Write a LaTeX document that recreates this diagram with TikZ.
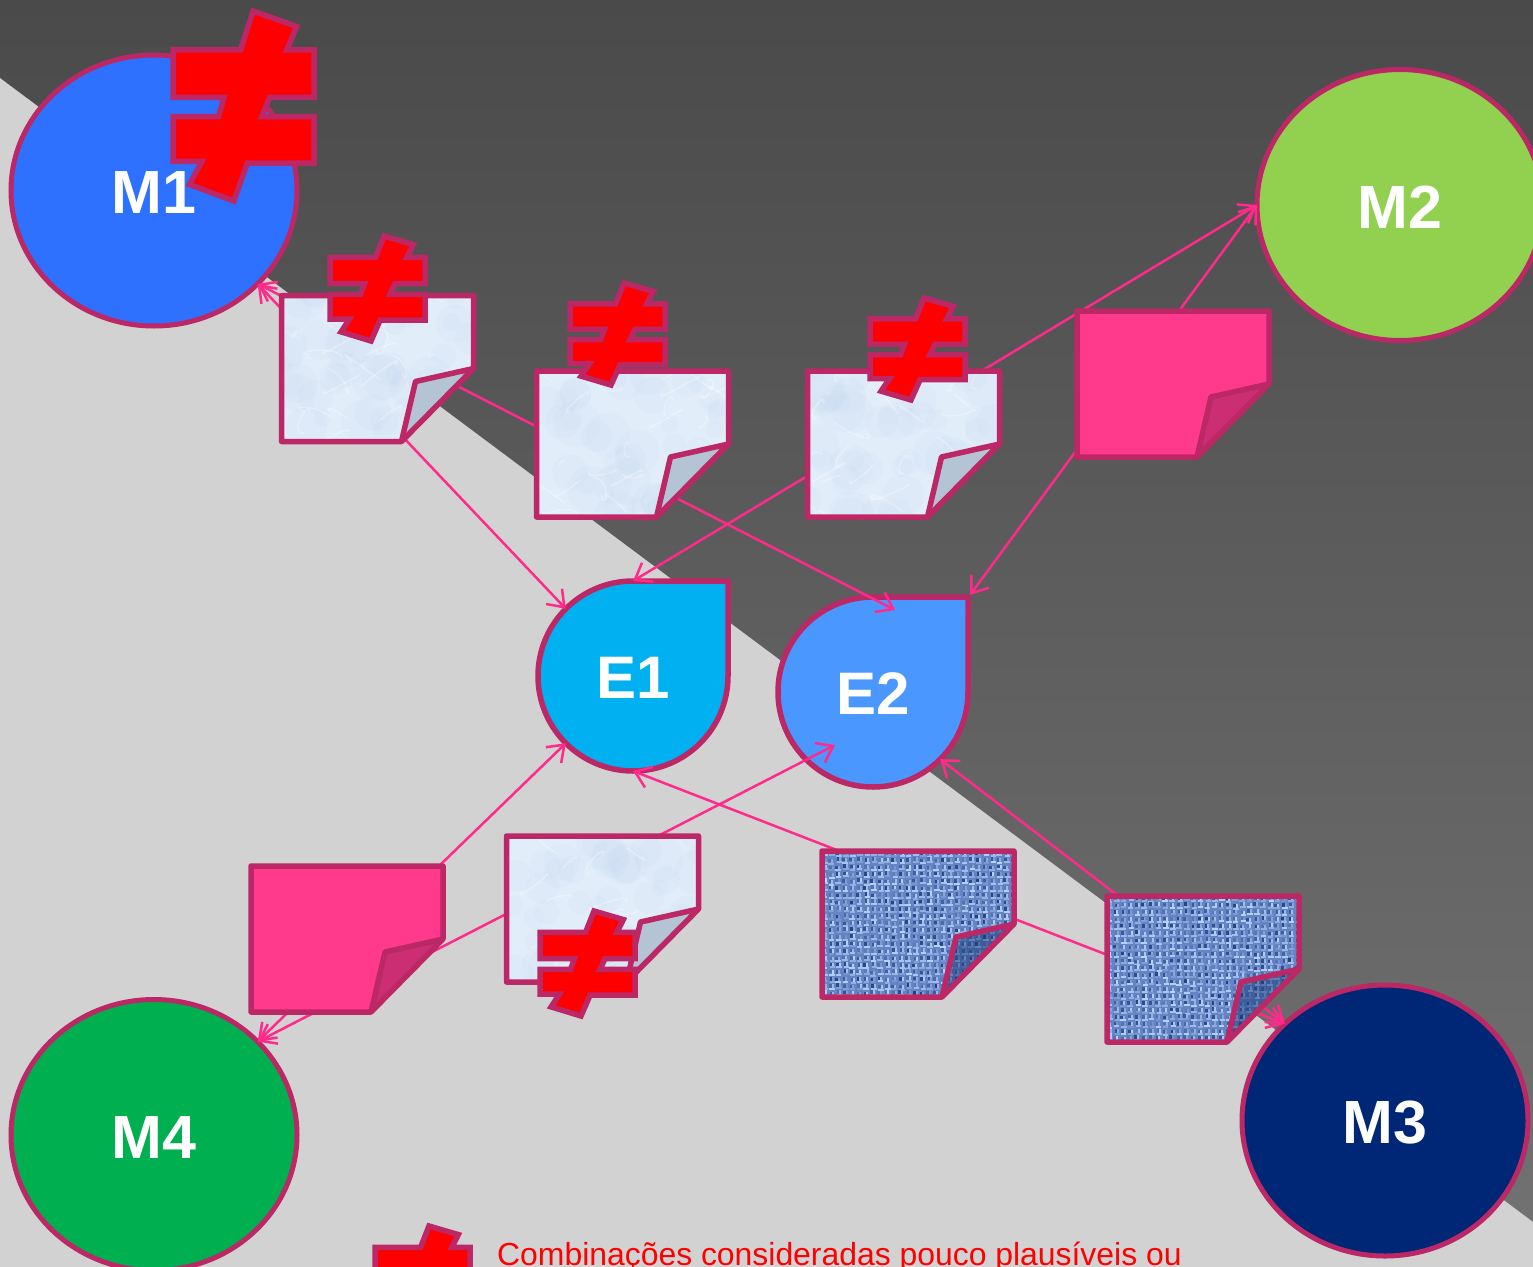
\documentclass[tikz,border=0pt]{standalone}
\usepackage{fontspec}
\setmainfont{Liberation Sans}
\usetikzlibrary{shapes.geometric,arrows.meta}
\definecolor{edgeC}{HTML}{BC2766}
\definecolor{linkC}{HTML}{FF2A8A}
\definecolor{lightbg}{HTML}{D2D2D2}
\definecolor{pinkF}{HTML}{FF3A8C}
\definecolor{pinkD}{HTML}{CC2E73}
\definecolor{paleF}{HTML}{E2EDFA}
\definecolor{paleB}{HTML}{C4D8F0}
\definecolor{paleD}{HTML}{B4C4D4}
\definecolor{denB}{HTML}{6484C4}
\definecolor{denL}{HTML}{BAD4FC}
\definecolor{denD}{HTML}{1C3A78}
\tikzset{
  mainball/.style={ellipse,draw=edgeC,line width=5pt,inner sep=0pt,outer sep=0pt,minimum width=286pt,minimum height=271pt,text=white,font=\bfseries\fontsize{61}{61}\selectfont},
  dropcore/.style={circle,inner sep=0pt,outer sep=0pt,minimum size=190pt,text=white,font=\bfseries\fontsize{60}{60}\selectfont},
  dropshape/.style={draw=edgeC,line width=5.5pt,line join=round},
  linkline/.style={draw=linkC,line width=2.5pt,{Straight Barb[length=15pt,width=22pt,line width=2.5pt]}-{Straight Barb[length=15pt,width=22pt,line width=2.5pt]}},
  noteline/.style={draw=edgeC,line width=5.5pt,line join=round},
  neqline/.style={draw=edgeC,fill=red,line width=5.5pt,line join=miter}
}
\newcommand{\Lowered}[1]{\raisebox{-2pt}[\height][\depth]{#1}}
\newcommand{\NoteBody}{(0,0)--(192,0)--(192,73)--(120,146)--(0,146)--cycle}
\newcommand{\NoteFold}{(192,73)--(134,86)--(120,146)}
\newcommand{\PaleTex}{%
  \foreach \k in {1,...,45}{%
    \pgfmathsetmacro\px{rnd*192}\pgfmathsetmacro\py{rnd*146}\pgfmathsetmacro\pr{8+rnd*16}%
    \fill[paleB,opacity=.13] (\px,\py) circle[radius=\pr pt];}%
  \foreach \k in {1,...,26}{%
    \pgfmathsetmacro\px{rnd*192}\pgfmathsetmacro\py{rnd*146}\pgfmathsetmacro\qx{rnd*70-35}\pgfmathsetmacro\qy{rnd*40-20}%
    \draw[white,opacity=.3,line width=1.4pt] (\px,\py) .. controls +(\qy,\qx*.4) and +(\qx*.6,\qy) .. +(\qx,\qy);}%
}
\newcommand{\DenimTex}{%
  \fill[denB] (0,0) rectangle (192,146);
  \foreach \i in {0,...,27}{\foreach \j in {0,...,21}{%
    \pgfmathtruncatemacro\ma{20+rnd*80}%
    \pgfmathtruncatemacro\mb{20+rnd*80}%
    \pgfmathtruncatemacro\mc{10+rnd*80}%
    \pgfmathsetmacro\ox{rnd*1.6-.8}%
    \pgfmathsetmacro\oy{rnd*1.6-.8}%
    \fill[denD!\mc!denB] (\i*7+\ox,\j*7+\oy) rectangle +(3.6,3.6);
    \draw[denL!\ma!denB,line width=2pt] (\i*7+\ox+3.6,\j*7+\oy) -- +(0,5.5);
    \draw[denL!\mb!denB,line width=2pt] (\i*7+\ox,\j*7+\oy+4.8) -- +(5.5,0);}}%
}
\newcommand{\NoteShape}[5]{% name x y texture foldfill
  \begin{scope}[shift={(#2,#3)}]
    \coordinate (#1) at (96,73);
    \begin{scope}
      \clip \NoteBody;
      #4
    \end{scope}
    \fill[#5] \NoteFold -- cycle;
    \draw[noteline] \NoteBody;
    \draw[noteline] \NoteFold;
  \end{scope}}
\newcommand{\NeqMark}[4]{%
  \begin{scope}[shift={(#1,#2)},xscale={#3/146},yscale={#4/196}]
    \draw[neqline] (83,0)--(128,16)--(118,40)--(146,40)--(146,89)--(100,89)--(92,109)--(146,109)--(146,157)--(77,157)--(63,196)--(17,179)--(30,155)--(0,155)--(0,109)--(47,109)--(53,89)--(0,89)--(0,40)--(70,40)--cycle;
  \end{scope}}
\begin{document}
\begin{tikzpicture}[x=1pt,y=-1pt]
\useasboundingbox (0,0) rectangle (1533,1266);
\clip (-3,-3) rectangle (1536,1269);
\pgfmathsetseed{4242}
% background
\shade[top color=black!71,bottom color=black!55] (-3,-3) rectangle (1536,1269);
\fill[lightbg] (-3,75.8) -- (1536,1224.2) -- (1536,1269) -- (-3,1269) -- cycle;
% ellipses
\node[mainball,fill={rgb,255:red,46;green,112;blue,255}] (M1) at (154,190.5) {\Lowered{M1}};
\node[mainball,fill={rgb,255:red,146;green,208;blue,80}] (M2) at (1400,205) {\Lowered{M2}};
\node[mainball,fill={rgb,255:red,0;green,39;blue,118}] (M3) at (1385,1120.5) {\Lowered{M3}};
\node[mainball,fill={rgb,255:red,0;green,176;blue,80}] (M4) at (154,1135) {\Lowered{M4}};
% drops
\coordinate (E1c) at (633,676);
\coordinate (E2c) at (873,692);
\node[dropcore] (E1) at (E1c) {};
\node[dropcore] (E2) at (E2c) {};
\draw[dropshape,fill={rgb,255:red,0;green,176;blue,240}] (E1.north) arc[start angle=90,end angle=360,radius=95pt] -- (E1.north -| E1.east) -- cycle;
\draw[dropshape,fill={rgb,255:red,74;green,152;blue,255}] (E2.north) arc[start angle=90,end angle=360,radius=95pt] -- (E2.north -| E2.east) -- cycle;
\node[dropcore] (E1t) at (E1c) {\Lowered{E1}};
\node[dropcore] (E2t) at (E2c) {\Lowered{E2}};
% connectors
\coordinate (E2a) at (895,610);
\coordinate (E2b) at (970,595);
\coordinate (E2d) at (835,745);
\draw[linkline] (M1.-42) -- (E1.135);
\draw[linkline] (M1.-42) -- (E2a);
\draw[linkline] (M2.180) -- (E1.90);
\draw[linkline] (M2.180) -- (E2b);
\draw[linkline] (M4.42) -- (E1.225);
\draw[linkline] (M4.42) -- (E2d);
\draw[linkline] (M3.136) -- (E1.270);
\draw[linkline] (M3.136) -- (E2.315);
% notes
\NoteShape{N1}{281.5}{295.5}{\fill[paleF] (0,0) rectangle (192,146);\PaleTex}{paleD}
\NoteShape{N2}{536.5}{371}{\fill[paleF] (0,0) rectangle (192,146);\PaleTex}{paleD}
\NoteShape{N3}{807.5}{371}{\fill[paleF] (0,0) rectangle (192,146);\PaleTex}{paleD}
\NoteShape{N4}{506.5}{836}{\fill[paleF] (0,0) rectangle (192,146);\PaleTex}{paleD}
\NoteShape{N5}{1077}{311}{\fill[pinkF] (0,0) rectangle (192,146);}{pinkD}
\NoteShape{N6}{251}{866}{\fill[pinkF] (0,0) rectangle (192,146);}{pinkD}
\NoteShape{N7}{822}{851}{\DenimTex}{denD,opacity=.5}
\NoteShape{N8}{1107}{896}{\DenimTex}{denD,opacity=.5}
% not-equal marks
\NeqMark{173}{11}{141}{190}
\NeqMark{330}{236}{95}{105}
\NeqMark{570}{283}{95}{102}
\NeqMark{870}{298}{95}{102}
\NeqMark{540}{911}{95}{105}
\NeqMark{375}{1226}{95}{105}
% legend
\node[anchor=base west,inner sep=0pt,text=red,font=\fontsize{31.9}{32}\selectfont] (legend) at (497,1265.5) {Combinações consideradas pouco plausíveis ou};
\end{tikzpicture}
\end{document}
